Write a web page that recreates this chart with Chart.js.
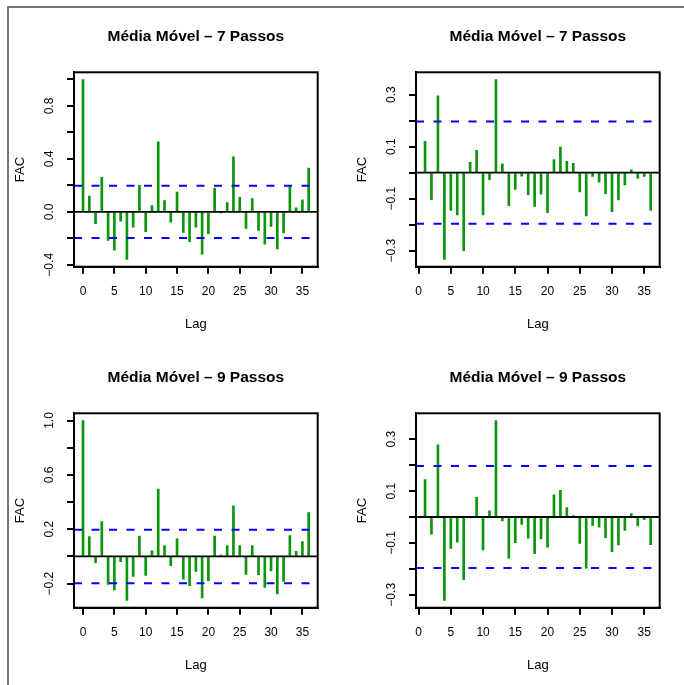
<!DOCTYPE html>
<html><head><meta charset="utf-8">
<script src="https://cdn.jsdelivr.net/npm/chart.js@4"></script>
<style>
html,body{margin:0;padding:0;background:#fff;width:684px;height:685px;overflow:hidden;}
#frame{position:absolute;left:7px;top:6px;width:720px;height:720px;border-left:2px solid #777;border-top:2px solid #777;}
canvas{position:absolute;}
</style></head><body>
<div id="frame"></div>
<canvas id="c1" width="342" height="341" style="left:0px;top:0px"></canvas>
<canvas id="c2" width="342" height="341" style="left:342px;top:0px"></canvas>
<canvas id="c3" width="342" height="341" style="left:0px;top:341px"></canvas>
<canvas id="c4" width="342" height="341" style="left:342px;top:341px"></canvas>
<script>
// ---- data ----
const titles = ['Média Móvel – 7 Passos', 'Média Móvel – 7 Passos', 'Média Móvel – 9 Passos', 'Média Móvel – 9 Passos'];
const xAxisTitle = 'Lag';
const yAxisTitle = 'FAC';
const lagsAcf = [0,1,2,3,4,5,6,7,8,9,10,11,12,13,14,15,16,17,18,19,20,21,22,23,24,25,26,27,28,29,30,31,32,33,34,35,36];
const lagsPacf = [1,2,3,4,5,6,7,8,9,10,11,12,13,14,15,16,17,18,19,20,21,22,23,24,25,26,27,28,29,30,31,32,33,34,35,36];
const acf7 = [1.0, 0.12, -0.09, 0.26, -0.215, -0.29, -0.07, -0.36, -0.115, 0.2, -0.15, 0.048, 0.53, 0.085, -0.078, 0.15, -0.155, -0.225, -0.115, -0.32, -0.165, 0.18, -0.005, 0.07, 0.415, 0.11, -0.125, 0.1, -0.14, -0.245, -0.11, -0.28, -0.16, 0.19, 0.03, 0.09, 0.33];
const pacf7 = [0.12, -0.104, 0.295, -0.334, -0.145, -0.163, -0.30, 0.04, 0.086, -0.163, -0.027, 0.358, 0.034, -0.127, -0.065, -0.014, -0.085, -0.13, -0.083, -0.154, 0.05, 0.098, 0.043, 0.036, -0.074, -0.166, -0.015, -0.037, -0.081, -0.15, -0.105, -0.047, 0.011, -0.022, -0.015, -0.144];
const acf9 = [1.0, 0.146, -0.046, 0.256, -0.205, -0.246, -0.039, -0.324, -0.146, 0.149, -0.139, 0.041, 0.495, 0.08, -0.068, 0.129, -0.168, -0.215, -0.11, -0.305, -0.18, 0.149, 0.01, 0.08, 0.373, 0.08, -0.132, 0.08, -0.134, -0.227, -0.107, -0.276, -0.183, 0.154, 0.037, 0.11, 0.322];
const pacf9 = [0.144, -0.066, 0.278, -0.322, -0.121, -0.097, -0.242, -0.003, 0.076, -0.127, 0.024, 0.372, -0.015, -0.159, -0.099, -0.029, -0.082, -0.141, -0.085, -0.116, 0.085, 0.103, 0.036, 0.005, -0.102, -0.197, -0.033, -0.039, -0.08, -0.134, -0.108, -0.052, 0.013, -0.034, -0.01, -0.107];
const clim7 = 0.197;
const clim9 = 0.197;
const xTicks = [0, 5, 10, 15, 20, 25, 30, 35];
const xTickLabels = ['0', '5', '10', '15', '20', '25', '30', '35'];
const yTicksAcf7 = [-0.4, -0.2, 0, 0.2, 0.4, 0.6, 0.8, 1.0];
const yLabelsAcf7 = ['−0.4', '', '0.0', '', '0.4', '', '0.8', ''];
const yTicksPacf = [-0.3, -0.2, -0.1, 0, 0.1, 0.2, 0.3];
const yLabelsPacf = ['−0.3', '', '−0.1', '', '0.1', '', '0.3'];
const yTicksAcf9 = [-0.2, 0, 0.2, 0.4, 0.6, 0.8, 1.0];
const yLabelsAcf9 = ['−0.2', '', '0.2', '', '0.6', '', '1.0'];

// ---- helpers ----
function rRange(arr) {
  const lo = Math.min(...arr), hi = Math.max(...arr);
  const d = (hi - lo) * 0.04;
  return [lo - d, hi + d];
}

const FONT = '"Liberation Sans", Arial, sans-serif';

const rDecor = {
  id: 'rdecor',
  afterDraw(chart, args, opts) {
    const ctx = chart.ctx, a = chart.chartArea, y = chart.scales.y;
    ctx.save();
    ctx.strokeStyle = '#000';
    ctx.lineWidth = 2;
    ctx.strokeRect(a.left, a.top, a.right - a.left, a.bottom - a.top);
    ctx.fillStyle = '#000';
    ctx.textAlign = 'center';
    ctx.textBaseline = 'alphabetic';
    const cx = (a.left + a.right) / 2;
    const cy = (a.top + a.bottom) / 2;
    ctx.font = 'bold 15.5px ' + FONT;
    ctx.fillText(opts.title, cx, a.top - 31.3);
    ctx.font = '13px ' + FONT;
    ctx.fillText(xAxisTitle, cx, a.bottom + 60.9);
    ctx.save();
    ctx.translate(a.left - 50.4, cy);
    ctx.rotate(-Math.PI / 2);
    ctx.fillText(yAxisTitle, 0, 0);
    ctx.restore();
    ctx.font = '12px ' + FONT;
    opts.yTicks.forEach((v, i) => {
      const lab = opts.yLabels[i];
      if (!lab) return;
      const py = y.getPixelForValue(v);
      ctx.save();
      ctx.translate(a.left - 21.2, py);
      ctx.rotate(-Math.PI / 2);
      ctx.fillText(lab, 0, 0);
      ctx.restore();
    });
    ctx.restore();
  }
};

function makeChart(id, title, lags, vals, clim, yTicks, yLabels) {
  const xr = rRange(lags);
  const yr = rRange(vals.concat([clim, -clim]));
  const hline = (v, color, w, dash) => ({
    type: 'line',
    data: [{x: xr[0], y: v}, {x: xr[1], y: v}],
    borderColor: color, borderWidth: w, borderDash: dash,
    pointRadius: 0, fill: false, tension: 0
  });
  new Chart(document.getElementById(id), {
    type: 'bar',
    data: {
      datasets: [
        hline(clim, '#0000ff', 2, [8, 9.5]),
        hline(-clim, '#0000ff', 2, [8, 9.5]),
        hline(0, '#000000', 1.8, []),
        {
          type: 'bar',
          data: lags.map((l, i) => ({x: l, y: vals[i]})),
          backgroundColor: '#0a960a',
          borderWidth: 0,
          barThickness: 2
        }
      ]
    },
    options: {
      responsive: false,
      animation: false,
      events: [],
      layout: {padding: {top: 72.3, left: 0, right: 24.3, bottom: 0}},
      plugins: {
        legend: {display: false},
        tooltip: {enabled: false},
        rdecor: {title: title, yTicks: yTicks, yLabels: yLabels}
      },
      scales: {
        x: {
          type: 'linear', min: xr[0], max: xr[1], offset: false,
          grid: {offset: false, drawOnChartArea: false, tickLength: 7, color: '#000', lineWidth: 2},
          border: {color: '#000', width: 2},
          ticks: {
            padding: 10.8, color: '#000', maxRotation: 0, autoSkip: false,
            font: {family: FONT, size: 12},
            callback: (v) => { const k = xTicks.indexOf(v); return k >= 0 ? xTickLabels[k] : ''; }
          },
          afterBuildTicks: (s) => { s.ticks = xTicks.map(v => ({value: v})); },
          afterFit: (s) => { s.height = 74.3; }
        },
        y: {
          type: 'linear', min: yr[0], max: yr[1],
          grid: {drawOnChartArea: false, tickLength: 7, color: '#000', lineWidth: 2},
          border: {color: '#000', width: 2},
          ticks: {display: false},
          afterBuildTicks: (s) => { s.ticks = yTicks.map(v => ({value: v})); },
          afterFit: (s) => { s.width = 74; }
        }
      }
    },
    plugins: [rDecor]
  });
}

makeChart('c1', titles[0], lagsAcf, acf7, clim7, yTicksAcf7, yLabelsAcf7);
makeChart('c2', titles[1], lagsPacf, pacf7, clim7, yTicksPacf, yLabelsPacf);
makeChart('c3', titles[2], lagsAcf, acf9, clim9, yTicksAcf9, yLabelsAcf9);
makeChart('c4', titles[3], lagsPacf, pacf9, clim9, yTicksPacf, yLabelsPacf);
</script>
</body></html>
